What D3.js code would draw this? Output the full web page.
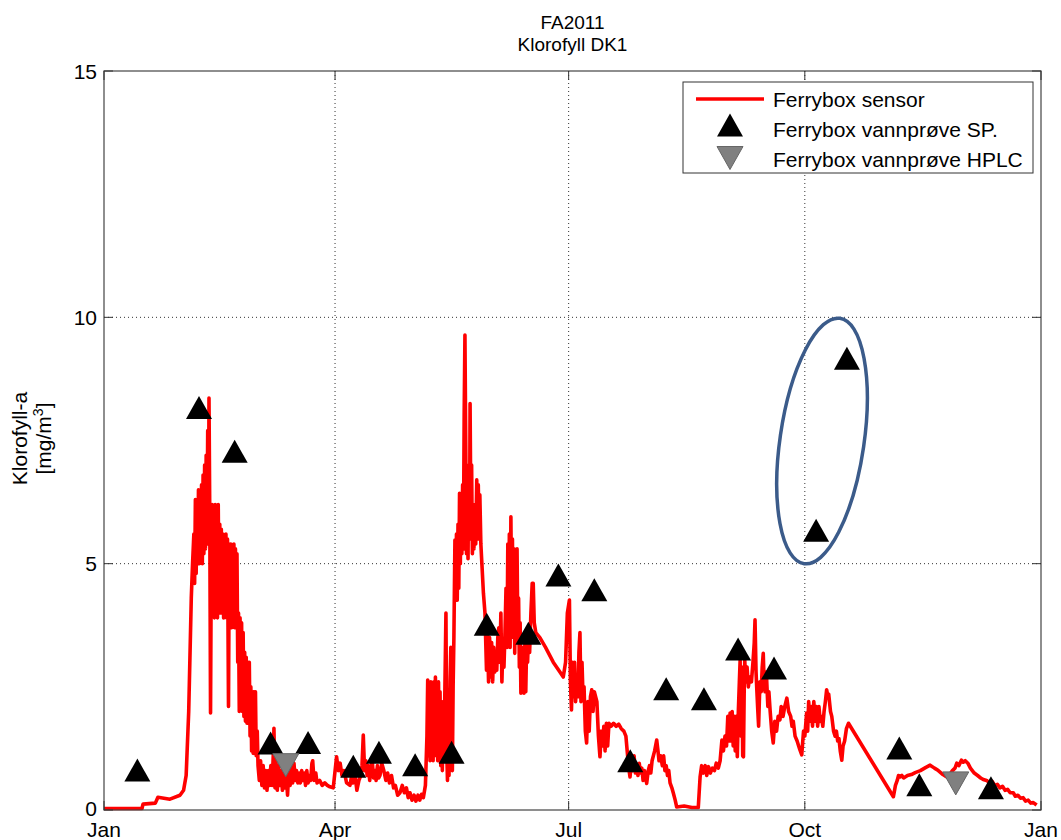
<!DOCTYPE html>
<html><head><meta charset="utf-8">
<script src="https://cdn.jsdelivr.net/npm/d3@7"></script>
<style>
body{margin:0;background:#fff;}
text{font-family:"Liberation Sans",Arial,sans-serif;fill:#000;}
</style></head>
<body>
<svg id="chart" width="1061" height="840"></svg>
<script>
// ---- data (day of year 2011, chlorophyll mg/m3) ----
const titleLines = ["FA2011", "Klorofyll DK1"];
const yTicks = [0, 5, 10, 15];
const xTickLabels = ["Jan", "Apr", "Jul", "Oct", "Jan"];
const xTickDays = [0, 90, 181, 273, 365];

// Ferrybox sensor, read as [day, value] pairs along the trace
const sensorJanMar = [[0,0.03],[14.8,0.03],[15.2,0.12],[20,0.14],[21,0.26],[25.7,0.22],[29.6,0.3],[31,0.4],[32,0.7],[33,2.0],[34,4.3],[34.5,5.0],[35,5.6],[35.3,4.6],[35.6,6.3],[35.9,4.8],[36.2,6.3],[36.5,5.0],[36.8,6.5],[37.1,5.0],[37.4,6.4],[37.7,5.1],[38,6.6],[38.3,5.0],[38.6,6.8],[38.9,5.2],[39.2,7.0],[39.5,5.3],[39.8,7.2],[40.1,5.4],[40.4,7.7],[40.7,5.6],[40.9,8.36],[41.2,6.0],[41.5,1.97],[41.8,5.2],[42.1,6.2],[42.4,4.0],[42.7,6.1],[43,3.9],[43.3,6.2],[43.6,4.1],[43.9,6.0],[44.2,3.9],[44.5,6.2],[44.8,4.2],[45.1,5.8],[45.4,4.0],[45.7,5.7],[46,4.1],[46.3,5.6],[46.6,3.9],[46.9,5.5],[47.2,4.2],[47.5,5.6],[47.8,3.9],[48.1,5.5],[48.5,2.1],[48.8,5.4],[49.1,3.8],[49.4,5.4],[49.7,3.7],[50,5.3],[50.3,3.9],[50.6,5.4],[50.9,3.7],[51.2,5.3],[51.5,3.8],[51.8,5.2],[52.1,3.0],[52.4,4.0],[52.7,2.0],[53,3.9],[53.3,2.4],[53.6,3.8],[53.9,2.0],[54.2,3.6],[54.5,1.9],[54.8,3.2],[55.1,1.8],[55.4,3.1],[55.7,1.76],[56,3.0],[56.3,1.8],[56.6,3.0],[56.9,1.5],[57.2,2.5],[57.5,1.2],[57.8,2.4],[58.1,1.15],[58.4,2.4],[58.7,1.2],[59,2.4],[59.3,1.1],[59.7,1.6],[60,0.9],[60.5,0.6],[61,1.0],[61.5,0.5],[62,0.9],[62.5,0.45],[63,0.8],[63.5,0.4],[64,0.8],[64.5,0.5],[65,0.9],[65.5,0.5],[66,1.2],[66.2,1.66],[66.6,0.45],[67,1.0],[67.5,0.4],[68,0.9],[68.5,0.5],[69,0.8],[69.5,0.4],[70,0.85],[70.5,0.45],[71,0.7],[71.5,0.3],[72,0.8],[72.5,0.5],[73,0.9],[73.5,0.55],[74,0.95],[74.5,0.6],[75,0.8],[75.5,0.55],[76,0.75],[76.5,0.55],[77,0.8],[77.5,0.6],[78,0.75],[78.5,0.5],[79,0.8],[79.5,0.55],[80,0.7],[80.5,0.6],[81,0.95],[81.3,1.0],[81.8,0.6],[82.5,0.75],[83,0.55],[84,0.6],[85,0.5],[86,0.55]];
const sensorAprJun = [[87,0.5],[88,0.47],[89.3,0.45],[90.6,1.08],[91.3,0.8],[92,0.95],[92.7,0.7],[93.5,0.8],[94.5,0.55],[95.8,0.5],[96.5,0.7],[97,0.55],[97.8,0.7],[98.5,0.4],[99.3,0.6],[100,0.7],[100.5,0.9],[101,1.52],[101.5,0.8],[102,1.0],[102.5,0.7],[103,0.9],[103.5,0.6],[104,0.85],[104.5,1.0],[105,0.65],[105.5,0.8],[106,0.6],[106.5,0.9],[107,0.65],[107.5,0.7],[108.2,0.95],[109,0.8],[109.8,0.6],[110.5,0.75],[111.2,0.55],[112,0.7],[112.8,0.45],[113.5,0.5],[114.4,0.3],[115.3,0.35],[116.2,0.5],[117,0.35],[117.8,0.45],[118.5,0.25],[119.2,0.35],[120,0.2],[120.8,0.3],[121.5,0.18],[122.3,0.3],[123,0.2],[123.7,0.32],[124.4,0.25],[125.2,0.5],[125.8,1.5],[126.1,2.64],[126.4,1.1],[126.7,2.5],[127,1.0],[127.3,2.6],[127.6,1.2],[127.9,2.4],[128.2,1.0],[128.5,2.6],[128.8,1.3],[129.1,2.7],[129.4,1.1],[129.7,2.5],[130,1.0],[130.3,2.6],[130.6,1.2],[130.9,2.4],[131.2,0.9],[131.5,2.2],[131.8,0.8],[132.1,2.0],[132.4,1.0],[132.8,2.5],[133.2,4.0],[133.5,1.2],[133.8,0.6],[134.1,1.8],[134.4,0.7],[134.8,2.6],[135.1,3.3],[135.4,1.0],[135.7,0.8],[136,2.5],[136.3,3.5],[136.7,5.48],[137,4.3],[137.3,5.6],[137.6,4.26],[137.9,5.8],[138.2,4.5],[138.5,6.43],[138.8,5.0],[139.1,6.4],[139.4,5.2],[139.7,6.6],[140,5.3],[140.3,8.0],[140.6,9.64],[140.9,7.5],[141.2,5.2],[141.5,6.2],[141.8,5.1],[142.1,7.0],[142.4,5.5],[142.6,8.25],[142.9,6.0],[143.2,7.0],[143.5,5.2],[143.8,6.0],[144.1,5.3],[144.4,6.2],[144.8,5.4],[145.2,6.7],[145.5,5.5],[145.8,6.6],[146.1,5.5],[146.4,6.4],[146.8,5.4],[147.2,5.0],[147.8,4.4],[148.4,4.0],[149,2.84],[149.4,3.6],[149.8,2.6],[150.2,3.5],[150.6,2.7],[151,3.4],[151.4,2.6],[151.8,3.3],[152.2,2.8],[152.6,3.2],[153,2.84],[153.4,3.5],[153.8,3.7],[154.2,3.0],[154.6,4.0],[155,2.6],[155.4,3.4],[155.8,2.9],[156.2,3.6],[156.6,4.5],[157,3.3],[157.3,5.4],[157.6,3.5],[157.9,5.6],[158.2,3.3],[158.5,5.95],[158.8,4.0],[159.1,5.5],[159.4,3.5],[159.7,5.3],[160,3.18],[160.3,4.8],[160.6,3.4],[160.9,5.3],[161.2,3.5],[161.5,4.3],[161.8,2.9],[162.1,3.8],[162.4,2.37],[162.7,3.2],[163,2.4],[163.3,3.3],[163.6,2.37],[164,3.5],[164.3,2.4],[164.6,3.3],[165,3.0],[165.4,3.6],[165.8,3.2],[166.3,4.0],[166.8,4.6],[167.2,4.6],[167.6,3.8],[168.2,3.6],[169.8,3.5],[172,3.3],[175,3.0],[177.6,2.8],[178.9,2.7],[179.8,3.0],[180.5,4.0]];
const sensorJulSep = [[181.3,4.26],[181.7,2.6],[182.1,2.03],[182.5,3.0],[182.9,2.3],[183.3,3.0],[183.7,2.2],[184.1,2.6],[184.6,2.3],[185,3.2],[185.4,3.6],[185.8,2.2],[186.2,3.0],[186.6,2.3],[187,2.5],[187.5,1.6],[188,1.36],[188.5,2.2],[189,1.6],[189.5,2.3],[190,2.44],[190.5,2.0],[191,2.4],[191.5,2.3],[192,2.2],[192.6,1.5],[193.2,1.08],[193.7,1.6],[194.2,1.3],[194.7,1.7],[195.2,1.2],[195.7,1.76],[196.2,1.3],[196.7,1.76],[197.5,1.7],[198.5,1.76],[199.5,1.7],[200.5,1.74],[201.5,1.65],[202.5,1.6],[203.3,1.5],[203.8,1.2],[204.3,0.9],[204.9,0.67],[205.5,1.0],[206,0.8],[206.5,1.1],[207,0.75],[207.5,0.9],[208,0.7],[208.5,0.95],[209,0.75],[209.5,0.85],[210,0.6],[210.5,0.8],[211.4,0.54],[212,0.8],[212.5,0.9],[213,0.75],[213.5,1.0],[214.5,1.2],[215.3,1.42],[215.8,1.2],[216.2,1.0],[216.8,1.1],[217.5,0.9],[218,1.1],[218.5,0.8],[219,0.9],[219.5,0.7],[220,0.8],[220.5,0.55],[221.2,0.45],[221.8,0.34],[222.5,0.2],[223.1,0.06],[226,0.08],[229,0.05],[231.5,0.05],[232.2,0.67],[232.8,0.9],[233.5,0.75],[234.2,0.9],[234.8,0.7],[235.5,0.88],[236.2,0.75],[237,0.85],[237.8,0.8],[238.5,0.95],[239.3,0.85],[240,1.0],[240.7,1.42],[241.3,1.2],[241.9,1.5],[242.5,1.3],[243,1.9],[243.4,1.4],[243.9,1.97],[244.3,1.4],[244.7,2.0],[245.1,1.3],[245.5,1.9],[245.9,1.2],[246.3,1.9],[246.7,1.08],[247.1,2.0],[247.5,2.6],[247.8,3.04],[248.1,1.5],[248.5,2.9],[248.8,1.1],[249.1,1.08],[249.4,2.5],[249.6,3.04],[250,2.6],[250.5,2.9],[251,2.5],[251.5,2.7],[252.2,2.6],[252.8,3.0],[253.3,3.4],[253.6,3.86],[254,2.8],[254.3,2.44],[254.7,2.0],[255,1.7],[255.5,2.6],[256,2.4],[256.4,2.9],[256.8,3.18],[257.2,2.5],[257.5,2.4],[258,2.8],[258.6,2.1],[259,2.4],[259.5,2.0],[260.1,1.6],[260.7,1.36],[261.3,1.8],[262,1.6],[262.6,1.9],[263.3,1.83],[263.8,2.1],[264.5,1.9],[265.2,2.1],[266,2.27],[266.7,2.0],[267.5,1.9],[268,1.7],[268.5,1.8],[269.2,1.5],[270,1.4],[270.6,1.3],[271.1,1.22],[271.8,1.12],[272.2,1.4],[272.5,1.6],[273,1.5],[273.7,1.97],[274.1,1.6],[274.5,2.2],[275,1.8],[275.5,2.1],[276,1.7],[276.5,2.2],[277,1.8],[277.5,2.1],[278,1.7],[278.5,2.1],[279,1.8],[279.5,1.9],[280,1.7],[280.5,2.0],[281,2.2],[281.5,2.44],[282,2.3],[282.3,2.35],[283,2.0],[283.5,1.9],[284.2,1.6],[284.8,1.5],[285.3,1.6],[285.8,1.4],[286.3,1.45],[286.8,1.2],[287.4,1.01],[287.9,1.3],[288.5,1.4],[289.2,1.65],[290,1.76]];
const sensorOctDec = [[307.5,0.27],[308.3,0.5],[309,0.6],[309.5,0.7],[310.1,0.67],[310.8,0.7],[311.5,0.65],[313,0.7],[314.5,0.72],[316,0.76],[318,0.8],[320,0.86],[321.8,0.91],[323.5,0.85],[325,0.8],[326.8,0.72],[328.3,0.67],[329.5,0.72],[330.5,0.8],[331.5,0.85],[332.2,0.95],[333,0.9],[334,1.01],[334.7,0.97],[335.5,1.0],[336.5,0.95],[337.5,0.85],[339,0.75],[340.3,0.7],[341.5,0.65],[342.5,0.62],[343.8,0.6],[345,0.55],[346,0.58],[347,0.5],[348,0.52],[349,0.45],[350,0.48],[351,0.4],[352,0.42],[353,0.35],[354.2,0.35],[355,0.28],[356,0.3],[357,0.24],[358,0.25],[359,0.18],[360,0.2],[361,0.14],[362,0.15],[363.3,0.1]];

const spDays = [13,37,50.9,64.9,79.5,97.1,107.1,121.2,135.4,149.1,165.3,177,191,205,219,233.7,247,261,277.4,289.4,309.8,317.6,345.5];
const spValues = [0.81,8.17,7.28,1.36,1.37,0.89,1.17,0.92,1.17,3.77,3.59,4.77,4.47,1.0,2.46,2.26,3.27,2.88,5.68,9.17,1.26,0.51,0.45];

const hplcDays = [70.8,331.8];
const hplcValues = [0.91,0.54];

const legendLabels = ["Ferrybox sensor", "Ferrybox vannprøve SP.", "Ferrybox vannprøve HPLC"];
const highlightCenter = {day: 279.7, value: 7.49};

// ---- setup ----
const svg = d3.select("#chart");
const m = {left:104, top:71, right:1041, bottom:810};
const t0 = Date.UTC(2011,0,1);
const toDate = d => new Date(t0 + d*864e5);
const x = d3.scaleUtc().domain([toDate(0), toDate(365)]).range([m.left, m.right]);
const y = d3.scaleLinear().domain([0,15]).range([m.bottom, m.top]);
const FS = 21;

// grid
const g = svg.append("g");
g.selectAll(".gx").data(xTickDays.slice(1,-1)).enter().append("line")
  .attr("x1", d=>x(toDate(d))).attr("x2", d=>x(toDate(d)))
  .attr("y1", m.top).attr("y2", m.bottom)
  .attr("stroke","#333").attr("stroke-width",1).attr("stroke-dasharray","1,3");
g.selectAll(".gy").data(yTicks.slice(1,-1)).enter().append("line")
  .attr("y1", d=>y(d)).attr("y2", d=>y(d))
  .attr("x1", m.left).attr("x2", m.right)
  .attr("stroke","#333").attr("stroke-width",1).attr("stroke-dasharray","1,3");

// sensor line
const sensor = [].concat(sensorJanMar, sensorAprJun, sensorJulSep, sensorOctDec);
const line = d3.line().x(d=>x(toDate(d[0]))).y(d=>y(d[1]));
svg.append("path").datum(sensor)
  .attr("d", line).attr("fill","none").attr("stroke","#ff0000")
  .attr("stroke-width",3.6).attr("stroke-linejoin","round");

// markers
const tw = 26, th = 23;
const triUp = `M0,${-th/2}L${tw/2},${th/2}L${-tw/2},${th/2}Z`;
const triDown = `M0,${th/2}L${tw/2},${-th/2}L${-tw/2},${-th/2}Z`;
svg.selectAll(".sp").data(spDays).enter().append("path")
  .attr("d", triUp)
  .attr("transform",(d,i)=>`translate(${x(toDate(d))},${y(spValues[i])})`)
  .attr("fill","#000");
svg.selectAll(".hp").data(hplcDays).enter().append("path")
  .attr("d", triDown)
  .attr("transform",(d,i)=>`translate(${x(toDate(d))},${y(hplcValues[i])})`)
  .attr("fill","#808080").attr("stroke","#666").attr("stroke-width",1);

// axes box
svg.append("rect").attr("x",m.left).attr("y",m.top)
  .attr("width",m.right-m.left).attr("height",m.bottom-m.top)
  .attr("fill","none").attr("stroke","#444").attr("stroke-width",1.2);

// ticks
const tl = 9;
xTickDays.forEach(d=>{
  const xp = x(toDate(d));
  svg.append("line").attr("x1",xp).attr("x2",xp).attr("y1",m.bottom).attr("y2",m.bottom-tl).attr("stroke","#333");
  svg.append("line").attr("x1",xp).attr("x2",xp).attr("y1",m.top).attr("y2",m.top+tl).attr("stroke","#333");
});
yTicks.forEach(v=>{
  const yp = y(v);
  svg.append("line").attr("x1",m.left).attr("x2",m.left+tl).attr("y1",yp).attr("y2",yp).attr("stroke","#333");
  svg.append("line").attr("x1",m.right).attr("x2",m.right-tl).attr("y1",yp).attr("y2",yp).attr("stroke","#333");
});
svg.selectAll(".xl").data(xTickDays).enter().append("text")
  .attr("x",d=>x(toDate(d))).attr("y",837).attr("text-anchor","middle")
  .attr("font-size",FS).text((d,i)=>xTickLabels[i]);
svg.selectAll(".yl").data(yTicks).enter().append("text")
  .attr("x",m.left-7).attr("y",d=>y(d)+(d===0?5.5:7.5)).attr("text-anchor","end")
  .attr("font-size",FS).text(d=>d);

// title
svg.selectAll(".title").data(titleLines).enter().append("text")
  .attr("x",(m.left+m.right)/2).attr("y",(d,i)=>29+i*22).attr("text-anchor","middle")
  .attr("font-size",19).text(d=>d);

// y label
const yl = svg.append("g").attr("transform",`translate(0,${(m.top+m.bottom)/2 - 2}) rotate(-90)`);
yl.append("text").attr("x",0).attr("y",27).attr("text-anchor","middle").attr("font-size",FS).text("Klorofyll-a");
const yl2 = yl.append("text").attr("x",0).attr("y",51).attr("text-anchor","middle").attr("font-size",FS);
yl2.append("tspan").text("[mg/m");
yl2.append("tspan").attr("dy",-8).attr("font-size",14).text("3");
yl2.append("tspan").attr("dy",8).text("]");

// highlight ellipse
svg.append("ellipse")
  .attr("transform",`translate(${x(toDate(highlightCenter.day))},${y(highlightCenter.value)}) rotate(8.3)`)
  .attr("rx",42).attr("ry",124)
  .attr("fill","none").attr("stroke","#3b5b8a").attr("stroke-width",3.5);

// legend
const lg = svg.append("g");
lg.append("rect").attr("x",683).attr("y",82).attr("width",350).attr("height",91)
  .attr("fill","#fff").attr("stroke","#333").attr("stroke-width",1);
lg.append("line").attr("x1",696).attr("x2",764).attr("y1",99).attr("y2",99)
  .attr("stroke","#ff0000").attr("stroke-width",3.4);
lg.append("path").attr("d",triUp).attr("transform","translate(730,125)").attr("fill","#000");
lg.append("path").attr("d",triDown).attr("transform","translate(730,158)").attr("fill","#808080").attr("stroke","#666");
lg.selectAll(".lt").data(legendLabels).enter().append("text")
  .attr("x",773).attr("y",(d,i)=>107+i*30).attr("font-size",FS).text(d=>d);
</script>
</body></html>
